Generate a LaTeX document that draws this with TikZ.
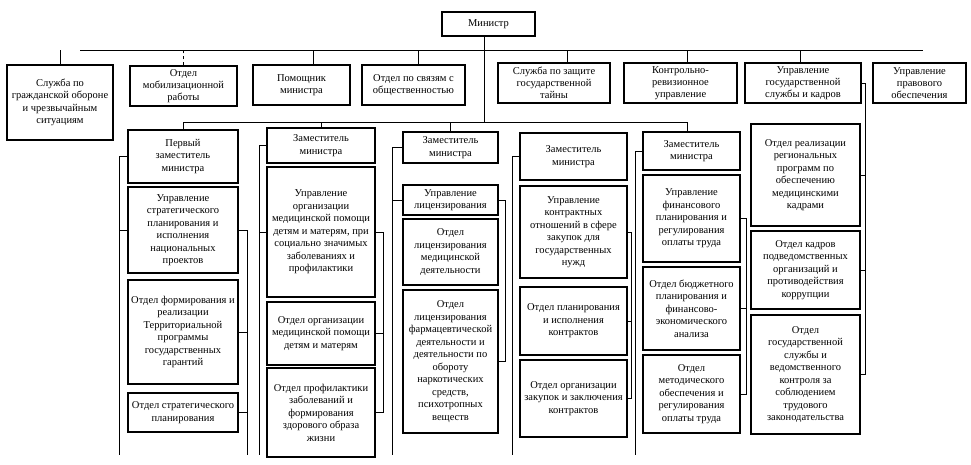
\documentclass[tikz,border=0pt]{standalone}
\usepackage{fontspec}
\setmainfont{Liberation Serif}
\usetikzlibrary{calc}
\tikzstyle{block} = [draw, rectangle, line width=1.3pt, fill=white,
                     align=center, inner sep=1pt]
\tikzstyle{head} = [block, minimum height=40pt, font=\fontsize{10.5}{12}\selectfont]
\tikzstyle{colA} = [block, minimum width=110pt]
\tikzstyle{colB} = [block, minimum width=108pt]
\tikzstyle{colC} = [block, minimum width=95pt]
\tikzstyle{colD} = [block, minimum width=107pt]
\tikzstyle{colE} = [block, minimum width=97pt]
\tikzstyle{colF} = [block, minimum width=109pt]
\tikzstyle{link} = [line width=0.7pt]

\begin{document}
\begin{tikzpicture}[x=1pt, y=-1pt, font=\fontsize{10.5}{12.5}\selectfont]

% background
\fill[white] (0,0) rectangle (971,465);
\useasboundingbox (0,0) rectangle (971,465);

% minister and staff units
\path (488.5,24) node [block, minimum width=93pt, minimum height=24pt] (min) {Министр};

\path (60,102.5) node [block, minimum width=106pt, minimum height=75pt] (gochs)
        {Служба по\\гражданской обороне\\и чрезвычайным\\ситуациям};
\path (183.5,86) node [head, minimum width=107pt] (mob) {Отдел\\мобилизационной\\работы};
\path (301.5,85) node [head, minimum width=97pt]  (pom) {Помощник\\министра};
\path (413.5,85) node [head, minimum width=103pt] (svyaz) {Отдел по связям с\\общественностью};
\path (554,83)   node [head, minimum width=112pt] (taina) {Служба по защите\\государственной\\тайны};
\path (680.5,83) node [head, minimum width=113pt] (kru) {Контрольно-\\ревизионное\\управление};
\path (803,83)   node [head, minimum width=116pt] (kadry) {Управление\\государственной\\службы и кадров};
\path (919.5,83) node [head, minimum width=93pt]  (pravo) {Управление\\правового\\обеспечения};

% first deputy
\path (183,156.5) node [colA, minimum height=53pt] (zam1) {Первый\\заместитель\\министра}
  -- ++(0,73.5) node [colA, minimum height=86pt] (upr1)
        {Управление\\стратегического\\планирования и\\исполнения\\национальных\\проектов}
  -- ++(0,102) node [colA, minimum height=104pt] (form1)
        {Отдел формирования и\\реализации\\Территориальной\\программы\\государственных\\гарантий}
  -- ++(0,80.5) node [colA, minimum height=39pt] (strat1)
        {Отдел стратегического\\планирования};

% deputy 2
\path (321,145.5) node [colB, minimum height=35pt] (zam2) {Заместитель\\министра}
  -- ++(0,86.5) node [colB, minimum height=130pt] (org2)
        {Управление\\организации\\медицинской помощи\\детям и матерям, при\\социально значимых\\заболеваниях и\\профилактики}
  -- ++(0,101.5) node [colB, minimum height=63pt] (pom2)
        {Отдел организации\\медицинской помощи\\детям и матерям}
  -- ++(0,79) node [colB, minimum height=89pt] (prof2)
        {Отдел профилактики\\заболеваний и\\формирования\\здорового образа\\жизни};

% deputy 3
\path (450.5,147.5) node [colC, minimum height=31pt] (zam3) {Заместитель\\министра}
  -- ++(0,52.5) node [colC, minimum height=30pt] (lic3) {Управление\\лицензирования}
  -- ++(0,52) node [colC, minimum height=66pt] (med3)
        {Отдел\\лицензирования\\медицинской\\деятельности}
  -- ++(0,109.5) node [colC, minimum height=143pt] (farm3)
        {Отдел\\лицензирования\\фармацевтической\\деятельности и\\деятельности по\\обороту\\наркотических\\средств,\\психотропных\\веществ};

% deputy 4
\path (573.5,156.5) node [colD, minimum height=47pt] (zam4) {Заместитель\\министра}
  -- ++(0,75.5) node [colD, minimum height=92pt] (kontr4)
        {Управление\\контрактных\\отношений в сфере\\закупок для\\государственных\\нужд}
  -- ++(0,89) node [colD, minimum height=68pt] (plan4)
        {Отдел планирования\\и исполнения\\контрактов}
  -- ++(0,77.5) node [colD, minimum height=77pt] (zak4)
        {Отдел организации\\закупок и заключения\\контрактов};

% deputy 5
\path (691.5,151) node [colE, minimum height=38pt] (zam5) {Заместитель\\министра}
  -- ++(0,67.5) node [colE, minimum height=87pt] (fin5)
        {Управление\\финансового\\планирования и\\регулирования\\оплаты труда}
  -- ++(0,90) node [colE, minimum height=83pt] (bud5)
        {Отдел бюджетного\\планирования и\\финансово-\\экономического\\анализа}
  -- ++(0,85.5) node [colE, minimum height=78pt] (met5)
        {Отдел\\методического\\обеспечения и\\регулирования\\оплаты труда};

% departments of the staff service
\path (805.5,175) node [colF, minimum height=102pt] (real6)
        {Отдел реализации\\региональных\\программ по\\обеспечению\\медицинскими\\кадрами}
  -- ++(0,95) node [colF, minimum height=78pt] (kadr6)
        {Отдел кадров\\подведомственных\\организаций и\\противодействия\\коррупции}
  -- ++(0,104.5) node [colF, minimum height=119pt] (gos6)
        {Отдел\\государственной\\службы и\\ведомственного\\контроля за\\соблюдением\\трудового\\законодательства};

% bus lines
\coordinate (busL) at (80,50);
\coordinate (busR) at (923,50);
\coordinate (lev2) at (0,122);
\coordinate (bottom) at (0,455);

% add connections
\draw[link] (busL) -- (busR);
\draw[link] ([xshift=-4.5pt]min.south) -- ([xshift=-4.5pt]min.south |- lev2);
\draw[link] (gochs.north) -- (gochs.north |- busL);
\draw[link, dashed] (mob.north) -- (mob.north |- busL);
\draw[link] ([xshift=11.5pt]pom.north) -- ([xshift=11.5pt]pom.north |- busL);
\draw[link] ([xshift=4.5pt]svyaz.north) -- ([xshift=4.5pt]svyaz.north |- busL);
\draw[link] ([xshift=13pt]taina.north) -- ([xshift=13pt]taina.north |- busL);
\draw[link] ([xshift=6.5pt]kru.north) -- ([xshift=6.5pt]kru.north |- busL);
\draw[link] ([xshift=-3pt]kadry.north) -- ([xshift=-3pt]kadry.north |- busL);

\draw[link] (zam1.north |- lev2) -- ([xshift=-4.5pt]zam5.north |- lev2);
\draw[link] (zam1.north) -- (zam1.north |- lev2);
\draw[link] (zam2.north) -- (zam2.north |- lev2);
\draw[link] (zam3.north) -- (zam3.north |- lev2);
\draw[link] ([xshift=-4.5pt]zam5.north) -- ([xshift=-4.5pt]zam5.north |- lev2);

\draw[link] (zam1.west) -- ++(-8,0) coordinate (rail1) -- (rail1 |- bottom);
\draw[link] (upr1.west) -- (upr1.west -| rail1);
\draw[link] (upr1.east) -- ++(9,0) coordinate (side1) -- (side1 |- bottom);
\draw[link] (form1.east) -- (form1.east -| side1);
\draw[link] (strat1.east) -- (strat1.east -| side1);

\draw[link] (zam2.west) -- ++(-7,0) coordinate (rail2) -- (rail2 |- bottom);
\draw[link] (org2.west) -- (org2.west -| rail2);
\draw[link] (org2.east) -- ++(8,0) coordinate (side2) |- (prof2.east);
\draw[link] (pom2.east) -- (pom2.east -| side2);

\draw[link] (zam3.west) -- ++(-10,0) coordinate (rail3) -- (rail3 |- bottom);
\draw[link] (lic3.west) -- (lic3.west -| rail3);
\draw[link] (lic3.east) -- ++(7,0) coordinate (side3) |- (farm3.east);

\draw[link] (zam4.west) -- ++(-7,0) coordinate (rail4) -- (rail4 |- bottom);
\draw[link] (kontr4.east) -- ++(4,0) coordinate (side4) |- (zak4.east);
\draw[link] (plan4.east) -- (plan4.east -| side4);

\draw[link] (zam5.west) -- ++(-7,0) coordinate (rail5) -- (rail5 |- bottom);
\draw[link] (fin5.east) -- ++(6,0) coordinate (side5) |- (met5.east);
\draw[link] (bud5.east) -- (bud5.east -| side5);

\draw[link] (kadry.east) -- ++(4,0) coordinate (side6) |- (gos6.east);
\draw[link] (real6.east) -- (real6.east -| side6);
\draw[link] (kadr6.east) -- (kadr6.east -| side6);

\end{tikzpicture}
\end{document}
